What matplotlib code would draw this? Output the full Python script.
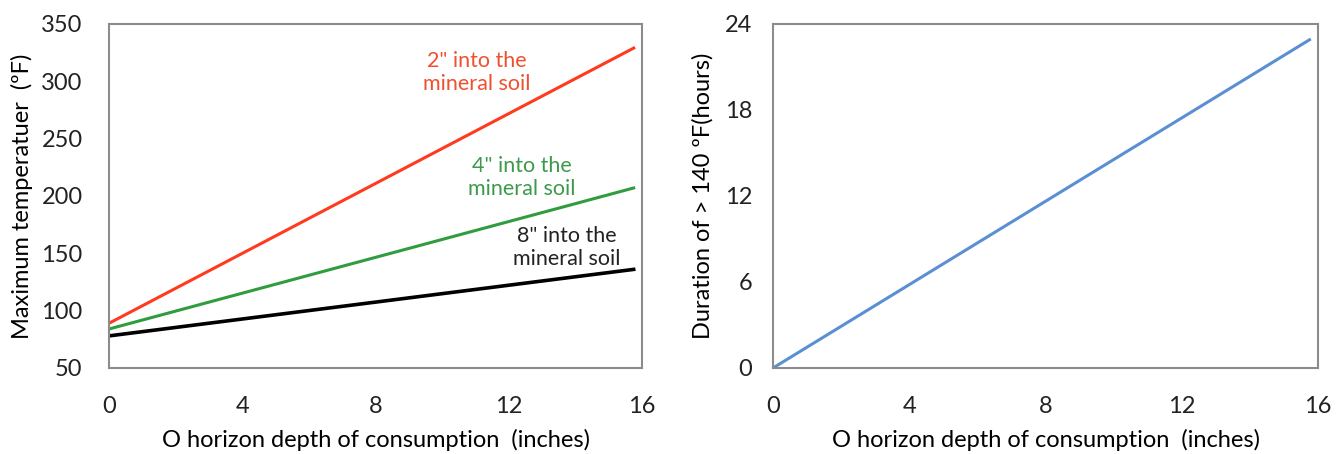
import matplotlib.pyplot as plt

plt.rcParams['font.family'] = ['Lato', 'DejaVu Sans']

depth = [0, 15.75]
temp_2in = [89, 329]
temp_4in = [84, 207]
temp_8in = [78, 136]
duration = [0, 22.9]

x_ticks = [0, 4, 8, 12, 16]
temp_ticks = [50, 100, 150, 200, 250, 300, 350]
hour_ticks = [0, 6, 12, 18, 24]

red = '#ff3a1e'
green = '#2f9c3f'
blue = '#5b8fd4'
spine_col = '#8c8c8c'

fig = plt.figure(figsize=(13.4, 4.54), dpi=100)
ax1 = fig.add_axes([109 / 1340, 86 / 454, 533 / 1340, 344 / 454])
ax2 = fig.add_axes([773 / 1340, 86 / 454, 545 / 1340, 344 / 454])

ax1.plot(depth, temp_2in, color=red, lw=2.2)
ax1.plot(depth, temp_4in, color=green, lw=2.2)
ax1.plot(depth, temp_8in, color='black', lw=2.6)

note = dict(fontsize=15.5, ha='center', va='center', linespacing=1.2)
ax1.text(11.05, 308, '2" into the\nmineral soil', color='#f0502e', **note)
ax1.text(12.4, 216, '4" into the\nmineral soil', color='#3d9a4b', **note)
ax1.text(13.75, 155, '8" into the\nmineral soil', color='#222222', **note)

ax1.set_xlim(0, 16)
ax1.set_ylim(50, 350)
ax1.set_yticks(temp_ticks)
ax1.set_ylabel('Maximum temperatuer  (ºF)', fontsize=17, labelpad=6)
ax1.tick_params(axis='y', pad=19)

ax2.plot(depth, duration, color=blue, lw=2.2)
ax2.set_xlim(0, 16)
ax2.set_ylim(0, 24)
ax2.set_yticks(hour_ticks)
ax2.set_ylabel('Duration of > 140 ºF(hours)', fontsize=17, labelpad=8)
ax2.tick_params(axis='y', pad=15)

for ax in (ax1, ax2):
    ax.set_xticks(x_ticks)
    ax.set_xlabel('O horizon depth of consumption  (inches)', fontsize=17, labelpad=9)
    ax.tick_params(length=0, labelsize=17, colors='#222222')
    ax.tick_params(axis='x', pad=20)
    for s in ax.spines.values():
        s.set_color(spine_col)
        s.set_linewidth(1.5)

fig.savefig('out.png', dpi=100)
